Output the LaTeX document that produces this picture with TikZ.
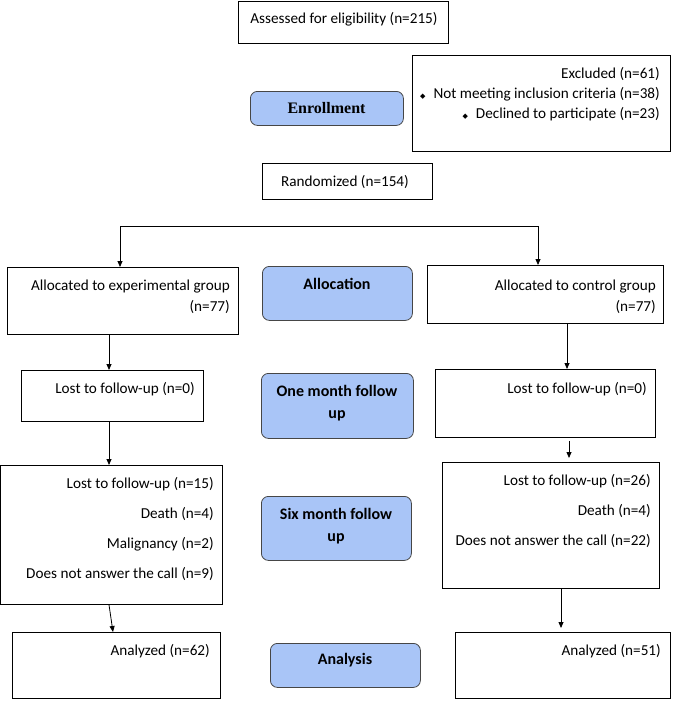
\documentclass[tikz,border=0pt]{standalone}
\usepackage{fontspec}
\setmainfont{Carlito}
\newfontfamily\serifbold{Liberation Serif}
\newfontfamily\symfont{DejaVu Sans}
\usetikzlibrary{arrows.meta,positioning}
\definecolor{phase}{RGB}{169,197,247}
\definecolor{phaseborder}{RGB}{70,70,70}
\newcommand{\bul}{\makebox[0pt][r]{\symfont\fontsize{7}{8}\selectfont ◆\hspace{8pt}}}
\tikzset{
  box/.style={draw=black, line width=0.8pt, anchor=north west, inner sep=0pt},
  phasebox/.style={draw=phaseborder, fill=phase, line width=0.8pt, rounded corners=7pt, anchor=north west, inner sep=0pt},
  txt/.style={anchor=east, inner sep=0pt, font=\fontsize{15.2}{17}\selectfont},
  ctxt/.style={anchor=center, inner sep=0pt, font=\fontsize{15.2}{17}\selectfont},
  ptxt/.style={anchor=center, inner sep=0pt, align=center, font=\fontsize{16}{22}\selectfont\bfseries},
  arr/.style={-{Triangle[length=6pt,width=5pt]}, line width=0.8pt},
  ln/.style={line width=0.8pt}
}
\begin{document}
\begin{tikzpicture}[x=1pt,y=-1pt]
\useasboundingbox (0,0) rectangle (673,701);
% boxes
\node[box, minimum width=210pt, minimum height=42pt] (assess) at (238,1) {};
\node[ctxt] (assesst) at (344,19) {Assessed for eligibility (n=215)};
\node[box, minimum width=258pt, minimum height=96pt] (excl) at (412,55) {};
\node[txt] (ex1) at (660,74) {Excluded (n=61)};
\node[txt] (ex2) at (660,94) {\bul Not meeting inclusion criteria (n=38)};
\node[txt] (ex3) at (660,114) {\bul Declined to participate (n=23)};
\node[phasebox, minimum width=153pt, minimum height=34pt] (enr) at (250,91) {};
\node[anchor=center, inner sep=0pt, font=\serifbold\fontsize{16}{18}\selectfont\bfseries] (enrt) at (326.5,108) {Enrollment};
\node[box, minimum width=170pt, minimum height=36pt] (rand) at (262,163) {};
\node[ctxt] (randt) at (345,182) {Randomized (n=154)};

% allocation
\node[box, minimum width=231pt, minimum height=67pt] (la) at (7,267) {};
\node[txt] (lat1) at (230,287) {Allocated to experimental group};
\node[txt] (lat2) at (230,307) {(n=77)};
\node[phasebox, minimum width=150pt, minimum height=54pt] (alloc) at (262,266) {};
\node[ptxt] (alloct) at (337,284) {Allocation};
\node[box, minimum width=236pt, minimum height=58pt] (ra) at (427,265) {};
\node[txt] (rat1) at (656,287) {Allocated to control group};
\node[txt] (rat2) at (656,307) {(n=77)};

% one month
\node[box, minimum width=182pt, minimum height=51pt] (l1) at (21,370) {};
\node[txt] (l1t) at (195,389) {Lost to follow-up (n=0)};
\node[phasebox, minimum width=152pt, minimum height=65pt] (one) at (261,373) {};
\node[ptxt] (onet) at (337,403) {One month follow\\up};
\node[box, minimum width=220pt, minimum height=68pt] (r1) at (435,369) {};
\node[txt] (r1t) at (647,389) {Lost to follow-up (n=0)};

% six month
\node[box, minimum width=222pt, minimum height=139pt] (l6) at (0,465) {};
\node[txt] (l6a) at (214,484) {Lost to follow-up (n=15)};
\node[txt] (l6b) at (214,514) {Death (n=4)};
\node[txt] (l6c) at (214,544) {Malignancy (n=2)};
\node[txt] (l6d) at (214,574) {Does not answer the call (n=9)};
\node[phasebox, minimum width=150pt, minimum height=64pt] (six) at (261,496) {};
\node[ptxt] (sixt) at (336,526) {Six month follow\\up};
\node[box, minimum width=217pt, minimum height=126pt] (r6) at (442,462) {};
\node[txt] (r6a) at (651,481) {Lost to follow-up (n=26)};
\node[txt] (r6b) at (651,511) {Death (n=4)};
\node[txt] (r6c) at (651,541) {Does not answer the call (n=22)};

% analysis
\node[box, minimum width=208pt, minimum height=66pt] (lan) at (12,632) {};
\node[txt] (lant) at (210,651) {Analyzed (n=62)};
\node[phasebox, minimum width=150pt, minimum height=44pt] (ana) at (270,643) {};
\node[ptxt] (anat) at (345,660) {Analysis};
\node[box, minimum width=215pt, minimum height=66pt] (ran) at (455,632) {};
\node[txt] (rant) at (661,651) {Analyzed (n=51)};

% connectors
\coordinate (cl) at (120,226);
\coordinate (cr) at (538,226);
\coordinate (xl) at (109,0);
\coordinate (xr) at (567,0);
\coordinate (xr2) at (569,0);
\coordinate (xr3) at (561,0);
\coordinate (ltop) at (113,631);
\draw[ln] (cl) -- (cr);
\draw[arr] (cl) -- (cl |- la.north);
\draw[arr] (cr) -- (cr |- ra.north);
\draw[arr] (xl |- la.south) -- (xl |- l1.north);
\draw[arr] (xr |- ra.south) -- (xr |- r1.north);
\draw[arr] (xl |- l1.south) -- (xl |- l6.north);
\draw[arr] ([yshift=-3pt]xr2 |- r1.south) -- ([yshift=4pt]xr2 |- r6.north);
\draw[arr] (xl |- l6.south) -- (ltop |- lan.north);
\draw[arr] (xr3 |- r6.south) -- ([yshift=4pt]xr3 |- ran.north);
\end{tikzpicture}
\end{document}
